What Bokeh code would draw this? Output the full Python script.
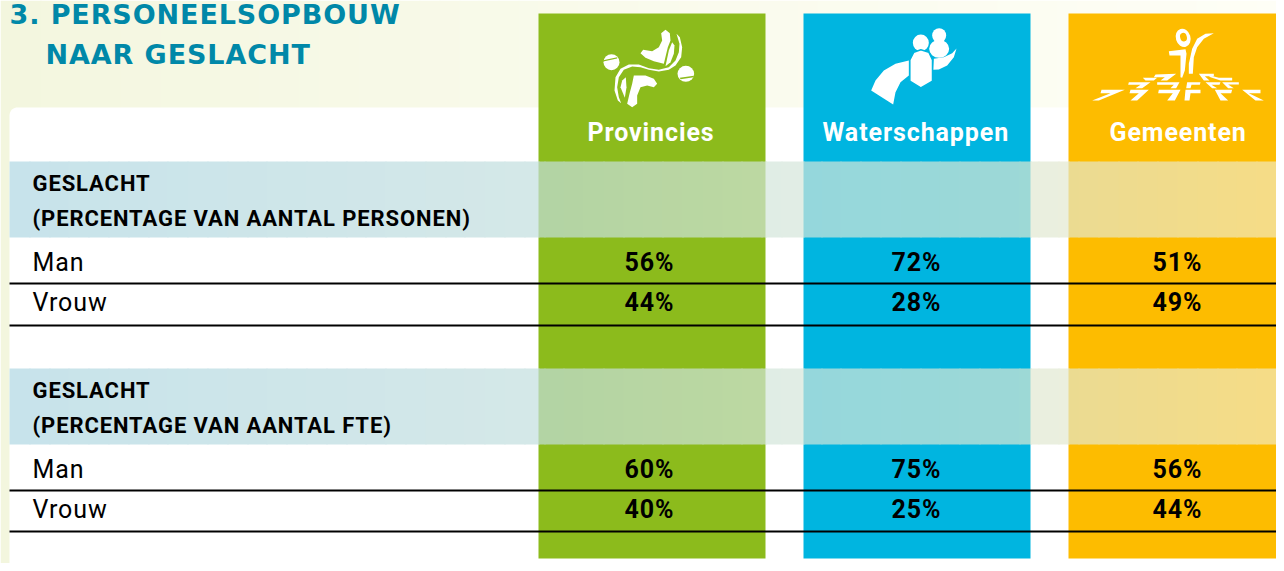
import numpy as np
from bokeh.plotting import figure
from bokeh.models import Range1d
from bokeh.core.properties import value
from bokeh.embed import file_html
from bokeh.resources import INLINE

# ---- chart content -------------------------------------------------------
title_lines = ["3. PERSONEELSOPBOUW", "NAAR GESLACHT"]
categories = ["Provincies", "Waterschappen", "Gemeenten"]
section_titles = [
    ["GESLACHT", "(PERCENTAGE VAN AANTAL PERSONEN)"],
    ["GESLACHT", "(PERCENTAGE VAN AANTAL FTE)"],
]
row_labels = ["Man", "Vrouw"]
personen_man = [56, 72, 51]
personen_vrouw = [44, 28, 49]
fte_man = [60, 75, 56]
fte_vrouw = [40, 25, 44]

# ---- layout and style ----------------------------------------------------
W, H = 1276, 563
col_left = [538, 803, 1068]
col_width = 227
col_rgb = [(140, 187, 28), (0, 181, 224), (253, 188, 0)]
col_colors = ["#%02x%02x%02x" % c for c in col_rgb]
col_top, col_bottom = 13, 558
panel_left, panel_top = 9, 107
section_top = [161, 368]
section_height = 76
row_bottom = [[283, 325], [490, 531]]
row_baseline = [[262, 302], [469, 509]]
section_baseline = [[183, 218], [390, 425]]
header_left = [587, 822, 1109]
value_left = [624, 891, 1152]
FONT = value("Roboto")
BAND_ALPHA = 0.7
tint_x = [0, 520, 800, 1050, 1284]
tint_rgb = [(175, 215, 226), (194, 222, 222), (213, 230, 218), (226, 232, 209), (243, 234, 190)]


def lerp(a, b, t):
    return tuple(x + (y - x) * t for x, y in zip(a, b))


def to_hex(c):
    return "#%02x%02x%02x" % tuple(int(round(v)) for v in c)


def tint(x):
    return tuple(np.interp(x, tint_x, [c[i] for c in tint_rgb]) for i in range(3))


p = figure(width=W, height=H, x_range=Range1d(0, W), y_range=Range1d(H, 0),
           x_axis_type=None, y_axis_type=None, toolbar_location=None,
           output_backend="svg", min_border=0, outline_line_color=None,
           background_fill_color="white", border_fill_color="white")
p.grid.visible = False
p.styles = {"letter-spacing": "0.9px"}

# page background: pale green fading to white towards the right
edges = np.round(np.linspace(0, W, 65))
bg_cols = [to_hex(lerp((243, 246, 222), (254, 254, 246), (e / W) ** 0.8)) for e in edges[:-1]]
p.quad(left=edges[:-1], right=edges[1:] + 1, top=0, bottom=H, fill_color=bg_cols, line_color=None)

# white panel with a rounded top-left corner
r = 8
a = np.linspace(np.pi, 1.5 * np.pi, 10)
px = list(panel_left + r + r * np.cos(a)) + [W, W, panel_left]
py = list(panel_top + r + r * np.sin(a)) + [panel_top, H, H]
p.patch(px, py, fill_color="white", line_color=None)

# category columns
p.quad(left=col_left, right=[c + col_width for c in col_left], top=col_top, bottom=col_bottom,
       fill_color=col_colors, line_color=None)

# section bands: a gradient laid over white and over the columns
stops = sorted(set(np.round(np.linspace(panel_left, W, 65)).tolist() +
                   col_left + [c + col_width for c in col_left]))
stops = [s for s in stops if s <= W]


def under(x):
    for left, rgb in zip(col_left, col_rgb):
        if left <= x < left + col_width:
            return rgb
    return (255, 255, 255)


band_cols = [to_hex(lerp(under(s), tint(s), BAND_ALPHA)) for s in stops[:-1]]
for top in section_top:
    p.quad(left=stops[:-1], right=[s + 1 for s in stops[1:]], top=top, bottom=top + section_height,
           fill_color=band_cols, line_color=None)

# rules under rows
for bottoms in row_bottom:
    for y in bottoms:
        p.segment(x0=panel_left, x1=W, y0=y, y1=y, line_color="#000000", line_width=2)


# ---- icons ---------------------------------------------------------------
def poly(pts, ox, oy, color="white"):
    arr = np.array(pts, dtype=float)
    p.patch(arr[:, 0] / 3 + ox, arr[:, 1] / 3 + oy, fill_color=color, line_color=None)


def oval(x, y, rx, ry, ox, oy, color="white", angle=0):
    p.ellipse(x=[x / 3 + ox], y=[y / 3 + oy], width=[2 * rx / 3], height=[2 * ry / 3],
              angle=angle, fill_color=color, line_color=None)


# Provincies
ox, oy = 590, 20
green = col_colors[0]
poly([(212, 38), (225, 28), (238, 38), (240, 60), (232, 80), (220, 130), (190, 122), (165, 112), (150, 98),
      (158, 88), (185, 92), (205, 80), (215, 60)], ox, oy)
poly([(245, 65), (235, 90), (225, 137), (240, 125), (250, 100), (252, 75)], ox, oy)
poly([(258, 40), (268, 50), (275, 80), (272, 110), (255, 135), (235, 148), (205, 153), (175, 148), (150, 140),
      (125, 138), (100, 148), (85, 170), (80, 200), (85, 230), (92, 248), (82, 240), (72, 210), (75, 170),
      (90, 145), (115, 132), (145, 132), (175, 143), (205, 148), (235, 140), (255, 120), (265, 95), (267, 70)], ox, oy)
poly([(106, 170), (95, 180), (90, 200), (103, 232), (108, 200)], ox, oy)
poly([(130, 165), (165, 165), (190, 175), (200, 190), (190, 200), (170, 195), (150, 200), (140, 225), (140, 250),
      (125, 260), (110, 250), (117, 220), (125, 190)], ox, oy)
oval(63, 125, 24, 24, ox, oy)
oval(286, 160, 25, 24, ox, oy)
poly([(38, 119), (80, 110), (80, 114), (38, 123)], ox, oy, green)
poly([(268, 172), (310, 166), (310, 170), (270, 176)], ox, oy, green)

# Waterschappen
ox, oy = 860, 20
blue = col_colors[1]
oval(236, 45, 21, 22, ox, oy)
oval(236, 85, 30, 27, ox, oy)
poly([(220, 115), (250, 110), (275, 98), (288, 84), (280, 110), (260, 135), (235, 147), (218, 148)], ox, oy)
poly([(145, 120), (105, 130), (70, 150), (45, 180), (32, 210), (98, 252), (105, 215), (120, 185), (145, 165)], ox, oy)
oval(181, 67, 26, 27, ox, oy, blue)
oval(181, 67, 24, 25, ox, oy)
arr = np.array([(148, 118), (160, 95), (181, 88), (205, 95), (216, 118), (216, 182), (181, 202), (148, 182)], dtype=float)
p.patch(arr[:, 0] / 3 + ox, arr[:, 1] / 3 + oy, fill_color="white", line_color=blue, line_width=1.5)

# Gemeenten
ox, oy = 1085, 20
yellow = col_colors[2]
oval(293, 52, 22, 28, ox, oy, angle=0.3)
oval(294, 50, 10, 13, ox, oy, yellow, angle=0.3)
poly([(250, 92), (300, 86), (303, 100), (298, 150), (290, 172), (285, 170), (285, 130), (285, 105), (252, 105)], ox, oy)
poly([(385, 38), (360, 40), (335, 55), (320, 85), (310, 130), (310, 160), (322, 160), (325, 110), (335, 80), (355, 55)], ox, oy)
for piece in [
    [(48, 208), (118, 208), (40, 240), (20, 240), (75, 218), (45, 218)],
    [(135, 208), (190, 208), (155, 240), (135, 240), (160, 218), (132, 218)],
    [(220, 208), (285, 208), (268, 240), (245, 240), (262, 218), (218, 218)],
    [(300, 208), (345, 208), (345, 218), (315, 218), (312, 240), (297, 240)],
    [(388, 208), (440, 208), (437, 218), (405, 218), (428, 240), (405, 240)],
    [(470, 208), (525, 208), (525, 218), (490, 218), (535, 240), (510, 240)],
    [(130, 185), (195, 185), (170, 203), (150, 203), (165, 193), (128, 193)],
    [(215, 185), (282, 185), (272, 203), (255, 203), (265, 193), (215, 193)],
    [(305, 185), (345, 185), (343, 193), (318, 193), (315, 203), (302, 203)],
    [(360, 185), (405, 185), (402, 193), (378, 193), (395, 203), (380, 203)],
    [(410, 185), (460, 185), (460, 192), (428, 192), (445, 203), (428, 203)],
    [(172, 172), (215, 172), (205, 180), (180, 180)],
    [(210, 162), (272, 160), (245, 180), (225, 180), (238, 170), (205, 170)],
    [(340, 160), (385, 160), (385, 167), (358, 167), (372, 180), (355, 180)],
    [(365, 163), (400, 172), (440, 172), (440, 180), (405, 180), (375, 170)],
]:
    poly(piece, ox, oy)

# ---- texts ---------------------------------------------------------------
p.text(x=[9, 45], y=[14, 54], text=title_lines, text_font=value("DejaVu Sans"), text_font_style="bold",
       text_font_size="27px", text_color="#0088a8", text_baseline="alphabetic")

p.text(x=header_left, y=[132] * 3, text=categories, text_font=FONT, text_font_style="bold",
       text_font_size="25px", text_color="white", text_baseline="alphabetic")

for lines, bases in zip(section_titles, section_baseline):
    p.text(x=[32, 32], y=bases, text=lines, text_font=FONT, text_font_style="bold",
           text_font_size="22px", text_color="#000000", text_baseline="alphabetic")

for bases in row_baseline:
    p.text(x=[32, 32], y=bases, text=row_labels, text_font=FONT, text_font_size="25px",
           text_color="#000000", text_baseline="alphabetic")

tables = [[personen_man, personen_vrouw], [fte_man, fte_vrouw]]
for table, bases in zip(tables, row_baseline):
    for values, base in zip(table, bases):
        p.text(x=value_left, y=[base] * 3, text=[f"{v}%" for v in values], text_font=FONT,
               text_font_style="bold", text_font_size="25px", text_color="#000000",
               text_baseline="alphabetic")

open("out.html", "w").write(file_html(p, INLINE))
